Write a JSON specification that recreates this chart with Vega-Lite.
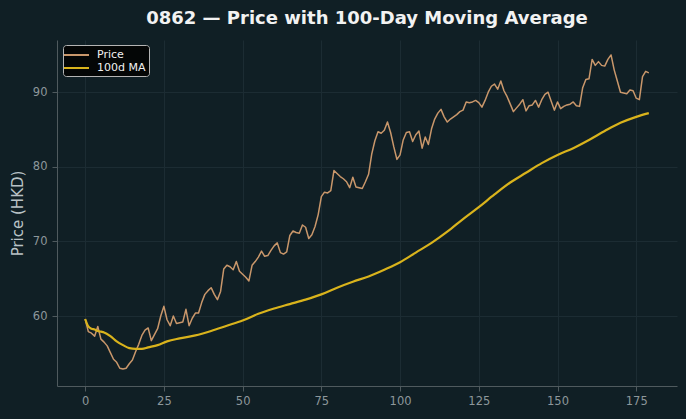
{
  "$schema": "https://vega.github.io/schema/vega-lite/v6.json",
  "width": 620,
  "height": 346,
  "autosize": {"type": "none"},
  "padding": {"left": 57, "top": 40, "right": 9, "bottom": 33},
  "background": "#101f25",
  "title": {
    "text": "0862 — Price with 100-Day Moving Average",
    "font": "DejaVu Sans",
    "fontSize": 18,
    "fontWeight": "bold",
    "color": "#f2f2f2",
    "anchor": "middle",
    "offset": 12
  },
  "config": {
    "view": {"stroke": null},
    "axis": {
      "domainColor": "#4f5a5e",
      "tickColor": "#4f5a5e",
      "tickSize": 5,
      "gridColor": "#1c2c33",
      "gridWidth": 1,
      "labelColor": "#8d979b",
      "labelFont": "DejaVu Sans",
      "labelFontSize": 11.5,
      "titleFont": "DejaVu Sans",
      "titleFontSize": 15,
      "titleFontWeight": "normal",
      "titleColor": "#b9c2c6"
    },
    "legend": {
      "labelFont": "DejaVu Sans",
      "labelFontSize": 11,
      "labelColor": "#f0f0f0"
    }
  },
  "data": {
    "values": [
      {"day": 0, "price": 59.6, "ma": 59.6},
      {"day": 1, "price": 57.9, "ma": 58.6},
      {"day": 2, "price": 57.7, "ma": 58.3},
      {"day": 3, "price": 57.3, "ma": 58.2},
      {"day": 4, "price": 58.6, "ma": 58.0},
      {"day": 5, "price": 56.9, "ma": 57.9},
      {"day": 6, "price": 56.5, "ma": 57.8},
      {"day": 7, "price": 56.0},
      {"day": 8, "price": 55.1, "ma": 57.3},
      {"day": 9, "price": 54.2},
      {"day": 10, "price": 53.8, "ma": 56.6},
      {"day": 11, "price": 53.0},
      {"day": 12, "price": 52.9, "ma": 56.1},
      {"day": 13, "price": 53.0},
      {"day": 14, "price": 53.6, "ma": 55.7},
      {"day": 15, "price": 54.1},
      {"day": 16, "price": 55.2, "ma": 55.6},
      {"day": 17, "price": 56.2},
      {"day": 18, "price": 57.4, "ma": 55.6},
      {"day": 19, "price": 58.1},
      {"day": 20, "price": 58.4, "ma": 55.8},
      {"day": 21, "price": 56.7},
      {"day": 22, "price": 57.5},
      {"day": 23, "price": 58.3, "ma": 56.1},
      {"day": 24, "price": 60.0},
      {"day": 25, "price": 61.3},
      {"day": 26, "price": 59.5, "ma": 56.6},
      {"day": 27, "price": 58.7},
      {"day": 28, "price": 60.0},
      {"day": 29, "price": 59.0},
      {"day": 30, "price": 59.1, "ma": 57.0},
      {"day": 31, "price": 59.2},
      {"day": 32, "price": 60.9},
      {"day": 33, "price": 58.7},
      {"day": 34, "price": 59.7},
      {"day": 35, "price": 60.4, "ma": 57.4},
      {"day": 36, "price": 60.4},
      {"day": 37, "price": 61.8},
      {"day": 38, "price": 62.9},
      {"day": 39, "price": 63.4},
      {"day": 40, "price": 63.8, "ma": 58.0},
      {"day": 41, "price": 62.9},
      {"day": 42, "price": 62.2},
      {"day": 43, "price": 63.3},
      {"day": 44, "price": 66.3},
      {"day": 45, "price": 66.8, "ma": 58.7},
      {"day": 46, "price": 66.6},
      {"day": 47, "price": 66.2},
      {"day": 48, "price": 67.3},
      {"day": 49, "price": 66.0},
      {"day": 50, "price": 65.6, "ma": 59.4},
      {"day": 51, "price": 65.2},
      {"day": 52, "price": 64.7},
      {"day": 53, "price": 66.8},
      {"day": 54, "price": 67.3},
      {"day": 55, "price": 67.9, "ma": 60.3},
      {"day": 56, "price": 68.7},
      {"day": 57, "price": 68.0},
      {"day": 58, "price": 68.1},
      {"day": 59, "price": 68.8},
      {"day": 60, "price": 69.4, "ma": 61.0},
      {"day": 61, "price": 69.8},
      {"day": 62, "price": 68.5},
      {"day": 63, "price": 68.3},
      {"day": 64, "price": 68.6},
      {"day": 65, "price": 70.8, "ma": 61.6},
      {"day": 66, "price": 71.4},
      {"day": 67, "price": 71.2},
      {"day": 68, "price": 71.1},
      {"day": 69, "price": 72.2},
      {"day": 70, "price": 71.9, "ma": 62.2},
      {"day": 71, "price": 70.4},
      {"day": 72, "price": 70.9},
      {"day": 73, "price": 72.0},
      {"day": 74, "price": 73.6},
      {"day": 75, "price": 76.0, "ma": 62.9},
      {"day": 76, "price": 76.6},
      {"day": 77, "price": 76.5},
      {"day": 78, "price": 76.8},
      {"day": 79, "price": 79.5},
      {"day": 80, "price": 79.1, "ma": 63.8},
      {"day": 81, "price": 78.7},
      {"day": 82, "price": 78.4},
      {"day": 83, "price": 78.0},
      {"day": 84, "price": 77.2},
      {"day": 85, "price": 78.6, "ma": 64.6},
      {"day": 86, "price": 77.3},
      {"day": 87, "price": 77.2},
      {"day": 88, "price": 77.1},
      {"day": 89, "price": 78.0},
      {"day": 90, "price": 79.0, "ma": 65.3},
      {"day": 91, "price": 81.7},
      {"day": 92, "price": 83.5},
      {"day": 93, "price": 84.7},
      {"day": 94, "price": 84.5},
      {"day": 95, "price": 84.9, "ma": 66.2},
      {"day": 96, "price": 86.0},
      {"day": 97, "price": 84.6},
      {"day": 98, "price": 82.7},
      {"day": 99, "price": 81.0},
      {"day": 100, "price": 81.6, "ma": 67.2},
      {"day": 101, "price": 83.6},
      {"day": 102, "price": 84.6},
      {"day": 103, "price": 84.7},
      {"day": 104, "price": 83.4},
      {"day": 105, "price": 84.3, "ma": 68.5},
      {"day": 106, "price": 84.8},
      {"day": 107, "price": 82.5},
      {"day": 108, "price": 84.0},
      {"day": 109, "price": 83.0},
      {"day": 110, "price": 85.1, "ma": 69.8},
      {"day": 111, "price": 86.4},
      {"day": 112, "price": 87.2},
      {"day": 113, "price": 87.7},
      {"day": 114, "price": 86.7},
      {"day": 115, "price": 86.0, "ma": 71.3},
      {"day": 116, "price": 86.4},
      {"day": 117, "price": 86.7},
      {"day": 118, "price": 87.0},
      {"day": 119, "price": 87.4},
      {"day": 120, "price": 87.6, "ma": 73.0},
      {"day": 121, "price": 88.7},
      {"day": 122, "price": 88.6},
      {"day": 123, "price": 88.7},
      {"day": 124, "price": 88.9},
      {"day": 125, "price": 88.6, "ma": 74.6},
      {"day": 126, "price": 88.0},
      {"day": 127, "price": 88.9},
      {"day": 128, "price": 90.0},
      {"day": 129, "price": 90.8},
      {"day": 130, "price": 91.1, "ma": 76.3},
      {"day": 131, "price": 90.4},
      {"day": 132, "price": 91.5},
      {"day": 133, "price": 90.2},
      {"day": 134, "price": 89.4},
      {"day": 135, "price": 88.4, "ma": 77.9},
      {"day": 136, "price": 87.4},
      {"day": 137, "price": 87.9},
      {"day": 138, "price": 88.4},
      {"day": 139, "price": 89.0},
      {"day": 140, "price": 87.5, "ma": 79.2},
      {"day": 141, "price": 88.2},
      {"day": 142, "price": 88.3},
      {"day": 143, "price": 88.9},
      {"day": 144, "price": 88.0},
      {"day": 145, "price": 89.0, "ma": 80.5},
      {"day": 146, "price": 89.7},
      {"day": 147, "price": 90.0},
      {"day": 148, "price": 88.8},
      {"day": 149, "price": 87.6},
      {"day": 150, "price": 88.7, "ma": 81.6},
      {"day": 151, "price": 87.8},
      {"day": 152, "price": 88.1},
      {"day": 153, "price": 88.3},
      {"day": 154, "price": 88.4},
      {"day": 155, "price": 88.7, "ma": 82.5},
      {"day": 156, "price": 88.2},
      {"day": 157, "price": 88.1},
      {"day": 158, "price": 90.6},
      {"day": 159, "price": 91.7},
      {"day": 160, "price": 91.8, "ma": 83.6},
      {"day": 161, "price": 94.4},
      {"day": 162, "price": 93.6},
      {"day": 163, "price": 94.1},
      {"day": 164, "price": 93.6},
      {"day": 165, "price": 93.5, "ma": 84.8},
      {"day": 166, "price": 94.4},
      {"day": 167, "price": 95.0},
      {"day": 168, "price": 93.0},
      {"day": 169, "price": 91.5},
      {"day": 170, "price": 90.0, "ma": 85.9},
      {"day": 171, "price": 89.9},
      {"day": 172, "price": 89.8},
      {"day": 173, "price": 90.3},
      {"day": 174, "price": 90.2},
      {"day": 175, "price": 89.2, "ma": 86.7},
      {"day": 176, "price": 89.0},
      {"day": 177, "price": 92.1},
      {"day": 178, "price": 92.8},
      {"day": 179, "price": 92.6, "ma": 87.2}
    ]
  },
  "layer": [
    {
      "mark": {"type": "line", "strokeWidth": 1.5, "strokeJoin": "round"},
      "encoding": {
        "x": {
          "field": "day",
          "type": "quantitative",
          "scale": {"domain": [-8.95, 187.95], "nice": false, "zero": false},
          "axis": {"values": [0, 25, 50, 75, 100, 125, 150, 175], "grid": true, "title": null, "labelPadding": 4}
        },
        "y": {
          "field": "price",
          "type": "quantitative",
          "scale": {"domain": [50.62, 97.0], "nice": false, "zero": false},
          "axis": {"values": [60, 70, 80, 90], "grid": true, "title": "Price (HKD)", "labelPadding": 5, "titlePadding": 7}
        },
        "color": {
          "datum": "Price",
          "type": "nominal",
          "scale": {"domain": ["Price", "100d MA"], "range": ["#c9976b", "#d9b31c"]},
          "legend": {
            "title": null,
            "orient": "none",
            "legendX": 6,
            "legendY": 5,
            "fillColor": "#040606",
            "strokeColor": "#b4b4b4",
            "cornerRadius": 3,
            "padding": 3,
            "rowPadding": 1,
            "symbolType": "M-1.5,0H2.67",
            "symbolSize": 144,
            "symbolStrokeWidth": 2,
            "labelOffset": 17
          }
        }
      }
    },
    {
      "transform": [{"filter": "isValid(datum.ma)"}],
      "mark": {"type": "line", "strokeWidth": 2.2, "strokeJoin": "round", "interpolate": "monotone"},
      "encoding": {
        "x": {"field": "day", "type": "quantitative"},
        "y": {"field": "ma", "type": "quantitative", "axis": {"title": "Price (HKD)"}},
        "color": {"datum": "100d MA", "type": "nominal"}
      }
    }
  ]
}
